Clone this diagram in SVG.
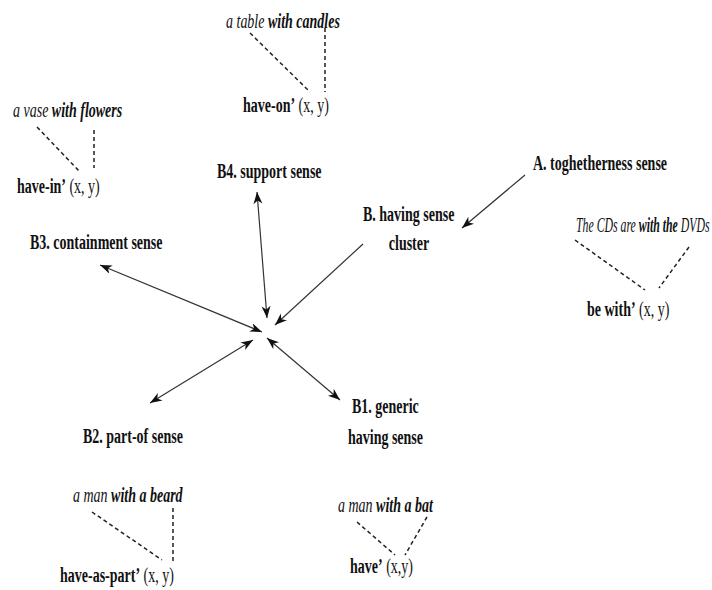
<svg xmlns="http://www.w3.org/2000/svg" width="712" height="590" viewBox="0 0 712 590">
<defs>
<marker id="ah" markerUnits="userSpaceOnUse" markerWidth="14" markerHeight="10" refX="12" refY="4.5" orient="auto-start-reverse" viewBox="0 0 14 10">
<path d="M0,0 L12,4.5 L0,9 L3.5,4.5 z" fill="#111"/>
</marker>
</defs>
<style>
text{font-family:"Liberation Serif","Times New Roman",serif;font-size:20px;fill:#111}
.b{font-weight:bold}
.i{font-style:italic}
.bi{font-style:italic;font-weight:bold}
.r{font-weight:normal;font-style:normal}
.arr{stroke:#333;stroke-width:1.2;fill:none}
.dash{stroke:#222;stroke-width:1.5;stroke-dasharray:4 3;fill:none}
</style>
<rect width="712" height="590" fill="#fff"/>
<g id="connectors">
<line class="arr" x1="525" y1="175" x2="462" y2="228" marker-end="url(#ah)"/>
<line class="arr" x1="363" y1="244" x2="275" y2="325" marker-end="url(#ah)"/>
<line class="arr" x1="257" y1="192" x2="267" y2="318" marker-start="url(#ah)" marker-end="url(#ah)"/>
<line class="arr" x1="100" y1="265" x2="262" y2="332" marker-start="url(#ah)" marker-end="url(#ah)"/>
<line class="arr" x1="150" y1="403" x2="253" y2="340" marker-start="url(#ah)" marker-end="url(#ah)"/>
<line class="arr" x1="340" y1="400" x2="267" y2="338" marker-start="url(#ah)" marker-end="url(#ah)"/>
</g>
<g id="nodeA">
<text class="b" transform="translate(533,170) scale(0.7,1)">A. toghetherness sense</text>
</g>
<g id="nodeB">
<text class="b" transform="translate(363,221) scale(0.7,1)">B. having sense</text>
<text class="b" text-anchor="middle" transform="translate(409,250) scale(0.7,1)">cluster</text>
</g>
<g id="nodeB1">
<text class="b" transform="translate(352,413) scale(0.7,1)">B1. generic</text>
<text class="b" transform="translate(348,444) scale(0.7,1)">having sense</text>
</g>
<g id="nodeB2">
<text class="b" transform="translate(83,443) scale(0.7,1)">B2. part-of sense</text>
</g>
<g id="nodeB3">
<text class="b" transform="translate(30,249) scale(0.7,1)">B3. containment sense</text>
</g>
<g id="nodeB4">
<text class="b" transform="translate(217,178) scale(0.7,1)">B4. support sense</text>
</g>
<g id="exampleB4">
<text transform="translate(226,28) scale(0.7,1)"><tspan class="i">a table </tspan><tspan class="bi">with candles</tspan></text>
<line class="dash" x1="250" y1="33" x2="310" y2="92"/>
<line class="dash" x1="325" y1="28" x2="325" y2="92"/>
<text transform="translate(243,112) scale(0.7,1)"><tspan class="b">have-on’</tspan><tspan class="r"> (x, y)</tspan></text>
</g>
<g id="exampleB3">
<text transform="translate(13,117) scale(0.7,1)"><tspan class="i">a vase </tspan><tspan class="bi">with flowers</tspan></text>
<line class="dash" x1="37" y1="127" x2="80" y2="172"/>
<line class="dash" x1="94" y1="130" x2="94" y2="168"/>
<text transform="translate(17,193) scale(0.7,1)"><tspan class="b">have-in’</tspan><tspan class="r"> (x, y)</tspan></text>
</g>
<g id="exampleA">
<text transform="translate(576,232) scale(0.59,1)"><tspan class="i">The CDs are </tspan><tspan class="bi">with the</tspan><tspan class="i"> DVDs</tspan></text>
<line class="dash" x1="575" y1="240" x2="645" y2="290"/>
<line class="dash" x1="689" y1="247" x2="659" y2="288"/>
<text transform="translate(587,316) scale(0.7,1)"><tspan class="b">be with’</tspan><tspan class="r"> (x, y)</tspan></text>
</g>
<g id="exampleB2">
<text transform="translate(73,502) scale(0.7,1)"><tspan class="i">a man </tspan><tspan class="bi">with a beard</tspan></text>
<line class="dash" x1="92" y1="512" x2="162" y2="560"/>
<line class="dash" x1="173" y1="508" x2="173" y2="562"/>
<text transform="translate(60,582) scale(0.7,1)"><tspan class="b">have-as-part’</tspan><tspan class="r"> (x, y)</tspan></text>
</g>
<g id="exampleB1">
<text transform="translate(338,512) scale(0.7,1)"><tspan class="i">a man </tspan><tspan class="bi">with a bat</tspan></text>
<line class="dash" x1="357" y1="522" x2="395" y2="555"/>
<line class="dash" x1="427" y1="517" x2="405" y2="555"/>
<text transform="translate(350,573) scale(0.7,1)"><tspan class="b">have’</tspan><tspan class="r"> (x,y)</tspan></text>
</g>
</svg>
